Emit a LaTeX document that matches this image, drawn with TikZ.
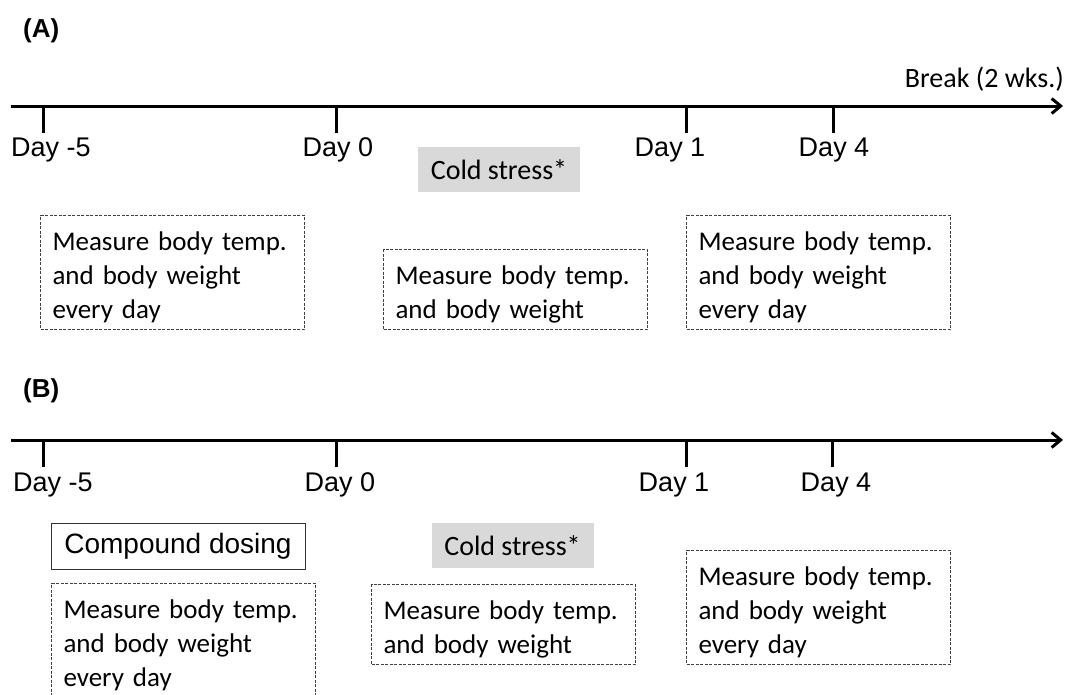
\documentclass[tikz,border=0pt]{standalone}
\usepackage{fontspec}
\setmainfont{Carlito}
\newfontfamily\arialfont{Liberation Sans}
\usetikzlibrary{arrows.meta,positioning}

\definecolor{coldgray}{HTML}{D9D9D9}

\tikzset{
  axis/.style={line width=3pt, -{Straight Barb[length=9pt,width=15pt]}},
  tick/.style={line width=3pt},
  daylabel/.style={anchor=base, inner sep=0pt, font=\arialfont\fontsize{27}{32}\selectfont},
  panel/.style={anchor=base west, inner sep=0pt, font=\arialfont\bfseries\fontsize{26}{31}\selectfont},
  measure/.style={draw=black!75, dash pattern=on 3pt off 1.5pt, line width=1pt,
    anchor=north west, text width=240pt, inner xsep=12pt, inner ysep=0pt,
    align=left, font=\fontsize{27}{34}\selectfont,
    execute at begin node={\rule{0pt}{29pt}}},
  cold/.style={fill=coldgray, minimum width=162pt, minimum height=45pt,
    inner sep=0pt, font=\fontsize{28}{33}\selectfont},
  dosing/.style={draw=black!80, line width=1pt, minimum width=254pt,
    minimum height=46pt, inner sep=0pt, font=\arialfont\fontsize{28}{33}\selectfont},
}

\begin{document}
\begin{tikzpicture}[x=1pt, y=-1pt]
  \useasboundingbox (0,0) rectangle (1067,694);

  % Panel (A)
  \node[panel] (labA) at (23,37) {(A)};

  % Draw the time line with its ticks
  \coordinate (axisA0) at (11,106);
  \coordinate (axisA1) at (1063,106);
  \draw[axis] (axisA0) -- (axisA1);
  \foreach \n/\x in {m5/43, d0/336, d1/686, d4/833} {
    \coordinate (tickA\n) at (\x,106);
    \coordinate (tickA\n b) at (\x,133);
    \draw[tick] (tickA\n) -- (tickA\n b);
  }
  \node[anchor=base east, inner sep=0pt, font=\fontsize{28}{33}\selectfont] (breakA) at (1064,87) {Break (2 wks.)};

  \node[daylabel] (dayAm5) at (51,156) {Day -5};
  \node[daylabel] (dayAd0) at (338,156) {Day 0};
  \node[daylabel] (dayAd1) at (670,156) {Day 1};
  \node[daylabel] (dayAd4) at (834,156) {Day 4};

  \node[cold] (coldA) at (499,169.5) {Cold stress*};

  % Boxes with the measurements
  \node[measure, minimum height=114pt] (measA1) at (40,215) {Measure body temp.\\and body weight\\every day};
  \node[measure, minimum height=80pt] (measA2) at (383,249) {Measure body temp.\\and body weight};
  \node[measure, minimum height=114pt] (measA3) at (686,215) {Measure body temp.\\and body weight\\every day};

  % Panel (B)
  \node[panel] (labB) at (23,397) {(B)};

  \coordinate (axisB0) at (11,440);
  \coordinate (axisB1) at (1063,440);
  \draw[axis] (axisB0) -- (axisB1);
  \foreach \n/\x in {m5/43, d0/336, d1/686, d4/832} {
    \coordinate (tickB\n) at (\x,440);
    \coordinate (tickB\n b) at (\x,467);
    \draw[tick] (tickB\n) -- (tickB\n b);
  }

  \node[daylabel] (dayBm5) at (53,491) {Day -5};
  \node[daylabel] (dayBd0) at (340,491) {Day 0};
  \node[daylabel] (dayBd1) at (674,491) {Day 1};
  \node[daylabel] (dayBd4) at (836,491) {Day 4};

  \node[dosing] (doseB) at (178,546) {Compound dosing};
  \node[cold] (coldB) at (512.5,545.5) {Cold stress*};

  \node[measure, minimum height=114pt] (measB1) at (51,583) {Measure body temp.\\and body weight\\every day};
  \node[measure, minimum height=80pt] (measB2) at (371,584) {Measure body temp.\\and body weight};
  \node[measure, minimum height=114pt] (measB3) at (686,550) {Measure body temp.\\and body weight\\every day};
\end{tikzpicture}
\end{document}
